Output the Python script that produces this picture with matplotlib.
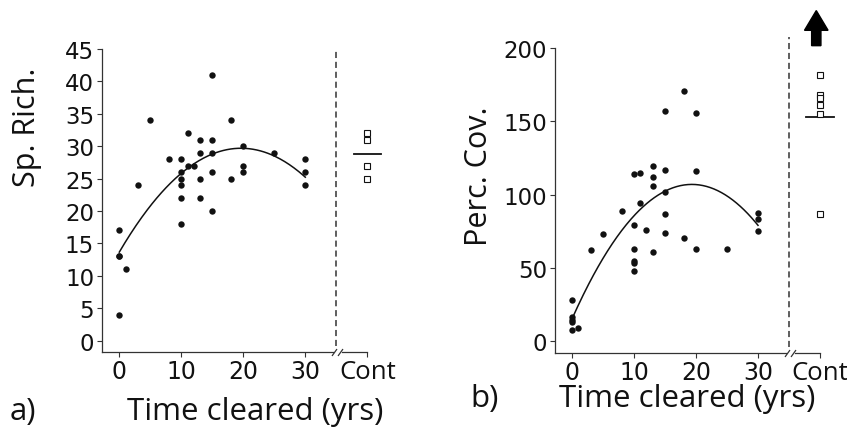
import matplotlib
matplotlib.use("Agg")
import matplotlib.pyplot as plt
import numpy as np
from matplotlib.patches import FancyArrow

# ---------------- data ----------------
a_time = [0, 0, 0, 0, 1, 3, 5, 8, 10, 10, 10, 10, 10, 10, 11, 11, 12, 13, 13, 13, 13,
          15, 15, 15, 15, 15, 18, 18, 20, 20, 20, 25, 30, 30, 30]
a_rich = [17, 13, 13, 4, 11, 24, 34, 28, 28, 26, 25, 24, 22, 18, 32, 27, 27, 31, 29, 25, 22,
          41, 31, 29, 26, 20, 34, 25, 30, 27, 26, 29, 28, 26, 24]
a_cont = [32, 31, 27, 25]

b_time = [0, 0, 0, 0, 0, 1, 3, 5, 8, 10, 10, 10, 10, 10, 10, 11, 11, 12, 13, 13, 13, 13,
          15, 15, 15, 15, 15, 18, 18, 20, 20, 20, 25, 30, 30, 30]
b_cover = [28, 16, 14, 12.5, 7.5, 9, 62, 73, 89, 114, 79, 62.5, 54.5, 53, 48, 115, 94, 76,
           119.5, 112, 106, 61, 157, 116.5, 102, 87, 73.5, 171, 70.5, 155.5, 116, 63, 62.5,
           87.5, 83.5, 75]
b_cont = [182, 168, 166, 161, 155, 87]

x_tick_vals = [0, 10, 20, 30, 40]
x_tick_labels = ["0", "10", "20", "30", "Cont"]
a_yticks = [0, 5, 10, 15, 20, 25, 30, 35, 40, 45]
b_yticks = [0, 50, 100, 150, 200]

CONT_X = 40
BREAK_X = 35
XLIM = (-2.8, 42.5)

TICK_FONT = "DejaVu Sans"
LABEL_FONT = "Open Sans"
INK = "#111111"
AXC = "#333333"

W, H = 847, 435
fig = plt.figure(figsize=(W / 100, H / 100), dpi=100)


def px(x, y):
    return x / W, 1 - y / H


def panel(rect, times, vals, cont, ylim, yticks, dash_top, arrow=False):
    ax = fig.add_axes(rect)
    ax.set_xlim(*XLIM)
    ax.set_ylim(*ylim)
    for s in ("top", "right", "bottom"):
        ax.spines[s].set_visible(False)
    ax.spines["left"].set_color(AXC)
    ax.spines["left"].set_linewidth(0.9)

    # data points
    ax.plot(times, vals, "o", color=INK, ms=4.6, mew=0, zorder=3)
    coef = np.polyfit(times, vals, 2)
    xs = np.linspace(0, 30, 200)
    ax.plot(xs, np.polyval(coef, xs), color=INK, lw=1.1, zorder=2)

    # controls
    ax.plot([CONT_X] * len(cont), cont, "s", mfc="white", mec=INK, ms=4, mew=0.8,
            zorder=3, clip_on=False)
    m = np.mean(cont)
    ax.plot([CONT_X - 2.2, CONT_X + 2.2], [m, m], color=INK, lw=1.3, clip_on=False)

    # dashed separator
    ax.plot([BREAK_X, BREAK_X], [ylim[0] * 0.5, dash_top], color=AXC, lw=1.1,
            ls=(0, (4, 2.5)), clip_on=False)

    # broken x axis
    tr = ax.get_xaxis_transform()
    ax.plot([XLIM[0], BREAK_X - 0.5], [0, 0], transform=tr, color=AXC, lw=0.9, clip_on=False)
    ax.plot([BREAK_X + 0.9, CONT_X], [0, 0], transform=tr, color=AXC, lw=0.9, clip_on=False)
    ax.plot([BREAK_X - 0.3, BREAK_X + 0.6], [0, 0], transform=tr, ls="none",
            marker=[(-1, -1.4), (1, 1.4)], ms=5, mec=AXC, mew=0.9, clip_on=False)

    ax.set_xticks(x_tick_vals, labels=x_tick_labels)
    ax.set_yticks(yticks)
    ax.tick_params(direction="out", length=3.6, width=0.8, color=AXC, pad=2,
                   labelcolor=INK)
    ax.tick_params(axis="x", labelsize=17, pad=1.5)
    ax.tick_params(axis="y", labelsize=16.5)
    for lab in ax.get_xticklabels() + ax.get_yticklabels():
        lab.set_fontfamily(TICK_FONT)
    ax.get_xticklabels()[-1].set_fontfamily(LABEL_FONT)
    ax.get_xticklabels()[-1].set_fontsize(18.5)

    if arrow:
        ax.add_patch(FancyArrow(39.4, 201.8, 0, 24, width=1.5, head_width=3.8,
                                head_length=13.5, length_includes_head=True,
                                color="black", clip_on=False))
    return ax


# panel a
l, b_ = px(119.3 + XLIM[0] * 6.2, 353.3)
panel([l, b_, (XLIM[1] - XLIM[0]) * 6.2 / W, (353.3 - 50) / H],
      a_time, a_rich, a_cont, (-1.8, 45), a_yticks, 45)

# panel b
l2, b2 = px(572 + XLIM[0] * 6.2, 354)
panel([l2, b2, (XLIM[1] - XLIM[0]) * 6.2 / W, (354 - 49.3) / H],
      b_time, b_cover, b_cont, (-8.4, 200), b_yticks, 208, arrow=True)

# labels
fig.text(*px(27, 127), "Sp. Rich.", rotation=90, ha="center", va="center",
         fontsize=22, family=LABEL_FONT, color=INK)
fig.text(*px(479, 176), "Perc. Cov.", rotation=90, ha="center", va="center",
         fontsize=22, family=LABEL_FONT, color=INK)
fig.text(*px(255.5, 420), "Time cleared (yrs)", ha="center", va="baseline",
         fontsize=22.5, family=LABEL_FONT, color=INK)
fig.text(*px(687, 407), "Time cleared (yrs)", ha="center", va="baseline",
         fontsize=22.5, family=LABEL_FONT, color=INK)
fig.text(*px(10, 420), "a)", ha="left", va="baseline",
         fontsize=22.5, family=LABEL_FONT, color=INK)
fig.text(*px(470, 407), "b)", ha="left", va="baseline",
         fontsize=22.5, family=LABEL_FONT, color=INK)

fig.savefig("out.png", dpi=100, facecolor="white")
